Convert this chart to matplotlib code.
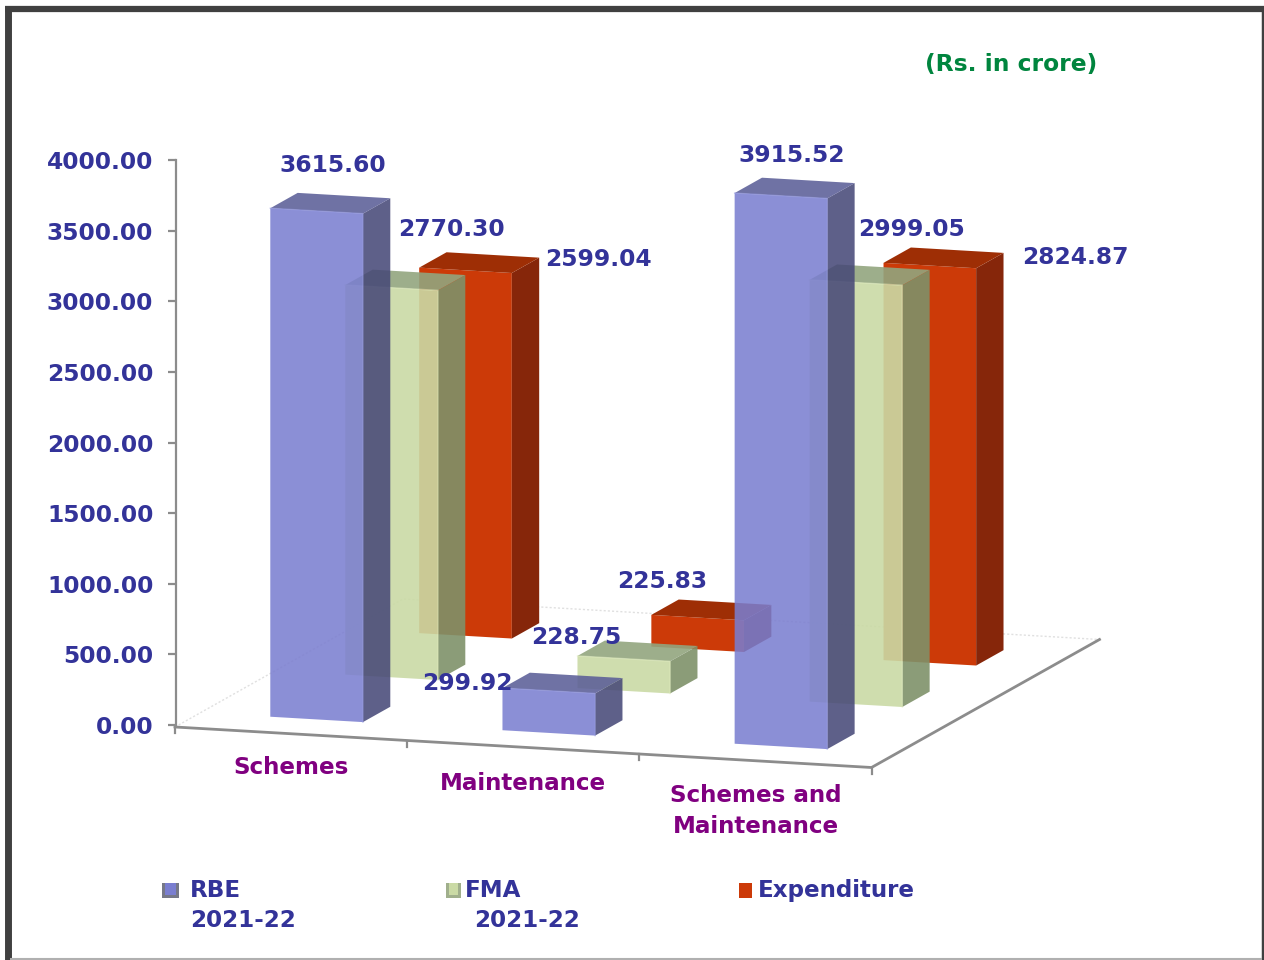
import matplotlib
matplotlib.use("Agg")
import matplotlib.pyplot as plt
from matplotlib.patches import Polygon, Rectangle

# data
categories = ["Schemes", "Maintenance", "Schemes and\nMaintenance"]
series = ["RBE", "FMA", "Expenditure"]
series_year = ["2021-22", "2021-22", ""]
rbe = [3615.60, 299.92, 3915.52]
fma = [2770.30, 228.75, 2999.05]
expenditure = [2599.04, 225.83, 2824.87]
y_ticks = [0, 500, 1000, 1500, 2000, 2500, 3000, 3500, 4000]

# label places in image pixels
label_x = [[333, 467, 792], [451, 576, 912], [598, 662, 1075]]
label_y = [[166, 684, 156], [229, 638, 229], [260, 582, 258]]
cat_x = [291, 523, 756]
cat_y = [767, 783, 811]
legend_x = [170, 453.5, 745.5]
legend_w = [17, 15, 13]
legend_text_x = [190, 465, 758]
legend_year_x = [190, 474, 758]

# colours: front, side, top, highlight, alpha
styles = [
    ((122, 126, 208), (70, 72, 119), (90, 93, 151), (150, 155, 228), 0.87),
    ((202, 218, 165), (127, 145, 105), (146, 165, 127), (226, 238, 190), 0.90),
    ((204, 58, 8), (134, 38, 10), (158, 46, 5), (204, 58, 8), 1.0),
]
legend_frame = [(118, 120, 135), (160, 175, 140), (204, 58, 8)]
TEXT = "#333399"
CAT = "#800080"
NOTE = "#00853e"
AXIS = "#8c8c8c"
FONT = 16.8
FONT_SMALL = 16.6

# pixels per value unit, pixel row of value 0
SCALE = 564.8 / 4000
ZERO = 725
# floor corner and its two edge directions in pixels
FX, FY = 175, 727
UX, UY = 696.5, 40.5
WX, WY = 228, -128
BAR_U = 0.133
BAR_W = 0.12
# depth row of each series on the floor
ROW_W = [0.172, 0.501, 0.825]
# bars stand a little further back than the value axis
DEPTH_SHRINK = 0.996


def rc(c):
    return tuple(v / 255 for v in c)


def val(py):
    return (ZERO - py) / SCALE


def project(u, w, v=0):
    x = FX + UX * u + WX * w
    py = FY + UY * u + WY * w
    return x, val(py) + v * DEPTH_SHRINK


fig = plt.figure(figsize=(12.64, 9.6), dpi=100)
ax = fig.add_axes([0, 0, 1, 1])
ax.set_xlim(0, 1264)
ax.set_ylim(val(960), val(0))
ax.patch.set_alpha(0)

for s in ["top", "right", "bottom"]:
    ax.spines[s].set_visible(False)
ax.spines["left"].set_position(("data", 175.5))
ax.spines["left"].set_bounds(0, 4000)
ax.spines["left"].set_color(AXIS)
ax.spines["left"].set_linewidth(1.6)
ax.set_xticks([])
ax.set_yticks(y_ticks)
ax.set_yticklabels(["%.2f" % t for t in y_ticks])
ax.tick_params(axis="y", length=5.5, width=1.6, color=AXIS, pad=10.5,
               labelcolor=TEXT, labelsize=FONT)
for t in ax.get_yticklabels():
    t.set_fontweight("bold")

# floor
c0, c1, c2, c3 = project(0, 0), project(1, 0), project(1, 1), project(0, 1)
ax.plot(*zip(c0, c3, c2), color="#e0e0e0", lw=1.0, ls=(0, (1.5, 1.5)), zorder=1)
ax.plot(*zip(c0, c1, c2), color=AXIS, lw=2, zorder=2, solid_joinstyle="miter")
for i in range(4):
    x, y = project(i / 3, 0)
    ax.plot([x, x], [y, y - 6 / SCALE], color=AXIS, lw=1.6, zorder=2)

# bars, back row first so nearer ones lie over it
rows = [rbe, fma, expenditure]
for j in [2, 1, 0]:
    front, side, top, light, alpha = styles[j]
    w0 = ROW_W[j] - BAR_W / 2
    w1 = w0 + BAR_W
    for i, v in enumerate(rows[j]):
        u0 = (i + 0.5) / 3 - BAR_U / 2
        u1 = u0 + BAR_U
        faces = [
            ([project(u0, w0), project(u1, w0), project(u1, w0, v), project(u0, w0, v)], front),
            ([project(u1, w0), project(u1, w1), project(u1, w1, v), project(u1, w0, v)], side),
            ([project(u0, w0, v), project(u1, w0, v), project(u1, w1, v), project(u0, w1, v)], top),
        ]
        z = 10 + (2 - j) * 10 + i
        for pts, col in faces:
            ax.add_patch(Polygon(pts, closed=True, facecolor=rc(col), edgecolor="none",
                                 alpha=alpha, zorder=z))
        if j < 2:
            ax.plot(*zip(project(u0, w0, v), project(u1, w0, v), project(u1, w0)),
                    color=rc(light), lw=1.0, alpha=0.55, zorder=z)

# value labels
for j in range(3):
    for i, v in enumerate(rows[j]):
        ax.text(label_x[j][i], val(label_y[j][i]), "%.2f" % v, color=TEXT, fontsize=FONT,
                fontweight="bold", ha="center", va="center", zorder=60)

for i, c in enumerate(categories):
    ax.text(cat_x[i], val(cat_y[i]), c, color=CAT, fontsize=FONT_SMALL, fontweight="bold",
            ha="center", va="center", linespacing=1.42, zorder=60)

ax.text(1011, val(64), "(Rs. in crore)", color=NOTE, fontsize=FONT, fontweight="bold",
        ha="center", va="center")

# legend
for j, name in enumerate(series):
    front = styles[j][0]
    w = legend_w[j]
    ax.add_patch(Rectangle((legend_x[j] - w / 2, val(898)), w, 15 / SCALE,
                           facecolor=rc(legend_frame[j]), edgecolor="none", zorder=5))
    if j < 2:
        ax.add_patch(Rectangle((legend_x[j] - w / 2 + 3, val(895)), w - 6, 12 / SCALE,
                               facecolor=rc(front), edgecolor="none", zorder=6))
    ax.text(legend_text_x[j], val(897), name, color=TEXT, fontsize=FONT_SMALL, fontweight="bold",
            ha="left", va="baseline")
    ax.text(legend_year_x[j], val(927), series_year[j], color=TEXT, fontsize=FONT_SMALL,
            fontweight="bold", ha="left", va="baseline")

# outer frame
ax.plot([7.5, 7.5], [val(960), val(9)], color="#404040", lw=5, solid_capstyle="butt", zorder=70)
ax.plot([5, 1264], [val(9), val(9)], color="#404040", lw=4.5, solid_capstyle="butt", zorder=70)
ax.plot([1262.5, 1262.5], [val(960), val(9)], color="#404040", lw=2.5, solid_capstyle="butt", zorder=70)
ax.plot([10, 1262], [val(958.5), val(958.5)], color="#b0b0b0", lw=1.5, solid_capstyle="butt", zorder=70)

fig.savefig("out.png", dpi=100, facecolor="white")
